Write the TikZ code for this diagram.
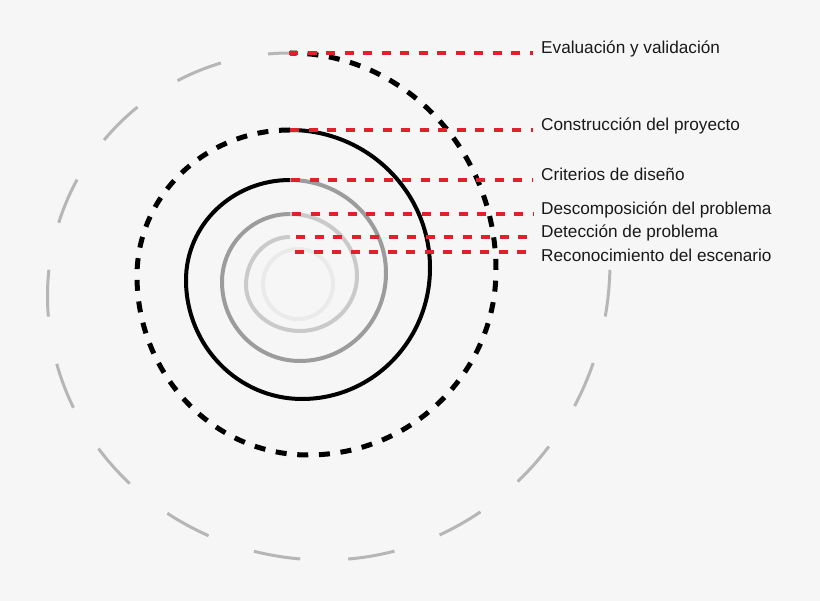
\documentclass[tikz,border=0pt]{standalone}
\usepackage{fontspec}
\setmainfont{Liberation Sans}
\usetikzlibrary{calc}
\definecolor{bgc}{RGB}{246,246,246}
\definecolor{ringA}{RGB}{234,234,234}
\definecolor{ringB}{RGB}{202,202,202}
\definecolor{ringC}{RGB}{156,156,156}
\definecolor{ringO}{RGB}{182,182,182}
\definecolor{redl}{RGB}{224,32,42}
\tikzset{
  qarc/.style n args={3}{insert path={.. controls ($(#1)!0.5523!(#3)$) and ($(#2)!0.5523!(#3)$) .. (#2)}},
  ringline/.style={line width=4pt},
  redline/.style={draw=redl, line width=4pt, dash pattern=on 9pt off 9.5pt},
  lab/.style={anchor=base west, inner xsep=8pt, inner ysep=0pt, font=\fontsize{17.2}{20}\selectfont, text=black!90}
}
\begin{document}
\begin{tikzpicture}[x=1pt,y=-1pt]
\fill[bgc] (0,0) rectangle (820,601);
\useasboundingbox (0,0) rectangle (820,601);
% spiral extreme points
\coordinate (T2) at (290,237);
\coordinate (L2) at (246,285);
\coordinate (B2) at (300,331);
\coordinate (R2) at (357,276);
\coordinate (T3) at (290,214);
\coordinate (L3) at (222,282);
\coordinate (B3) at (300,361);
\coordinate (R3) at (386,273);
\coordinate (T4) at (290,180);
\coordinate (L4) at (186,280);
\coordinate (B4) at (302,399);
\coordinate (R4) at (430,268);
\coordinate (T5) at (290,130);
\coordinate (L5) at (137,276);
\coordinate (B5) at (308,455);
\coordinate (R5) at (496,270);
\coordinate (T6) at (290,53);
\coordinate (L6) at (47.5,296);
\coordinate (B6) at (325,560);
\coordinate (R6) at (610,262);
% outer gray long-dashed turn
\draw[line width=3pt, ringO, dash pattern=on 47pt off 48pt, dash phase=25pt]
  (T6) [qarc={T6}{L6}{L6|-T6}] [qarc={L6}{B6}{L6|-B6}] [qarc={B6}{R6}{R6|-B6}];
% black dashed turn
\draw[line width=5pt, black, dash pattern=on 11pt off 10.7pt]
  (T5) [qarc={T5}{L5}{L5|-T5}] [qarc={L5}{B5}{L5|-B5}] [qarc={B5}{R5}{R5|-B5}] [qarc={R5}{T6}{R5|-T6}];
% black solid turn
\draw[ringline, black]
  (T4) [qarc={T4}{L4}{L4|-T4}] [qarc={L4}{B4}{L4|-B4}] [qarc={B4}{R4}{R4|-B4}] [qarc={R4}{T5}{R4|-T5}];
% medium gray turn
\draw[ringline, ringC]
  (T3) [qarc={T3}{L3}{L3|-T3}] [qarc={L3}{B3}{L3|-B3}] [qarc={B3}{R3}{R3|-B3}] [qarc={R3}{T4}{R3|-T4}];
% light gray turn
\draw[ringline, ringB]
  (T2) [qarc={T2}{L2}{L2|-T2}] [qarc={L2}{B2}{L2|-B2}] [qarc={B2}{R2}{R2|-B2}] [qarc={R2}{T3}{R2|-T3}];
% innermost circle
\draw[ringline, ringA] (298,284) circle[radius=35pt];
% labels
\node[lab] (e6) at (533,54) {Evaluación y validación};
\node[lab] (e5) at (533,131) {Construcción del proyecto};
\node[lab] (e4) at (533,181) {Criterios de diseño};
\node[lab] (e3) at (533,215) {Descomposición del problema};
\node[lab] (e2) at (533,238) {Detección de problema};
\node[lab] (e1) at (533,262) {Reconocimiento del escenario};
% red connectors
\coordinate (s6) at (289,53);
\coordinate (s5) at (290,130);
\coordinate (s4) at (291,180);
\coordinate (s3) at (292,214);
\coordinate (s2) at (296,237);
\coordinate (s1) at (295,252);
\draw[redline] (s6) -- (s6 -| e6.west);
\draw[redline] (s5) -- (s5 -| e5.west);
\draw[redline] (s4) -- (s4 -| e4.west);
\draw[redline] (s3) -- (s3 -| e3.west);
\draw[redline] (s2) -- (s2 -| e2.west);
\draw[redline] (s1) -- (s1 -| e1.west);
\end{tikzpicture}
\end{document}
